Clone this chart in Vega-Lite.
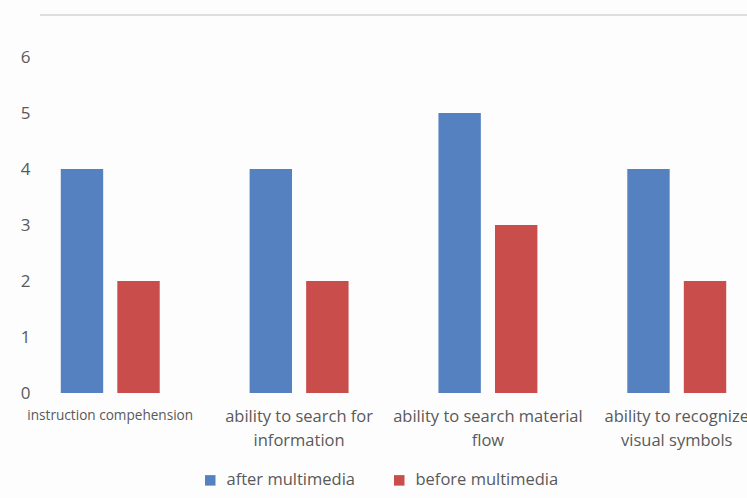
{
  "$schema": "https://vega.github.io/schema/vega-lite/v6.json",
  "width": 707,
  "height": 378,
  "autosize": {"type": "none"},
  "padding": {"left": 40, "top": 15, "right": 0, "bottom": 105},
  "background": "#fdfdfd",
  "config": {
    "font": "Open Sans",
    "view": {"stroke": null}
  },
  "data": {
    "values": [
      {"category": "instruction compehension", "series": "after multimedia", "value": 4},
      {"category": "instruction compehension", "series": "before multimedia", "value": 2},
      {"category": "ability to search for information", "series": "after multimedia", "value": 4},
      {"category": "ability to search for information", "series": "before multimedia", "value": 2},
      {"category": "ability to search material flow", "series": "after multimedia", "value": 5},
      {"category": "ability to search material flow", "series": "before multimedia", "value": 3},
      {"category": "ability to recognize visual symbols", "series": "after multimedia", "value": 4},
      {"category": "ability to recognize visual symbols", "series": "before multimedia", "value": 2}
    ]
  },
  "layer": [
    {
      "mark": {"type": "rule", "color": "#dedede", "strokeWidth": 1.5},
      "encoding": {"y": {"datum": 6.75, "type": "quantitative"}}
    },
    {
      "mark": {"type": "bar"},
      "encoding": {
        "x": {
          "field": "category",
          "type": "nominal",
          "sort": null,
          "scale": {"paddingInner": 0.476, "paddingOuter": 0.11},
          "axis": {
            "title": null,
            "domain": false,
            "ticks": false,
            "labelAngle": 0,
            "labelColor": "#595959",
            "labelFontSize": {"condition": {"test": "datum.value == 'instruction compehension'", "value": 13.6}, "value": 16.5},
            "labelPadding": 15,
            "labelLineHeight": 24,
            "labelLimit": 400,
            "labelExpr": "datum.value == 'instruction compehension' ? 'instruction compehension' : datum.value == 'ability to search for information' ? ['ability to search for', 'information'] : datum.value == 'ability to search material flow' ? ['ability to search material', 'flow'] : ['ability to recognize', 'visual symbols']"
          }
        },
        "xOffset": {
          "field": "series",
          "type": "nominal",
          "scale": {"paddingInner": 0.25, "paddingOuter": 0}
        },
        "y": {
          "field": "value",
          "type": "quantitative",
          "scale": {"domain": [0, 6.75], "nice": false},
          "axis": {
            "title": null,
            "values": [0, 1, 2, 3, 4, 5, 6],
            "format": "d",
            "domain": false,
            "ticks": false,
            "labelColor": "#595959",
            "labelFontSize": 17,
            "labelPadding": 10,
            "gridColor": "#e2e2e2",
            "gridWidth": 1
          }
        },
        "color": {
          "field": "series",
          "type": "nominal",
          "scale": {"domain": ["after multimedia", "before multimedia"], "range": ["#5681c0", "#c84d4b"]},
          "legend": {
            "title": null,
            "orient": "none",
            "legendX": 162,
            "legendY": 457,
            "direction": "horizontal",
            "symbolType": "square",
            "symbolSize": 110,
            "labelFontSize": 16.5,
            "labelColor": "#595959",
            "labelOffset": 8,
            "columnPadding": 36
          }
        }
      }
    }
  ]
}
